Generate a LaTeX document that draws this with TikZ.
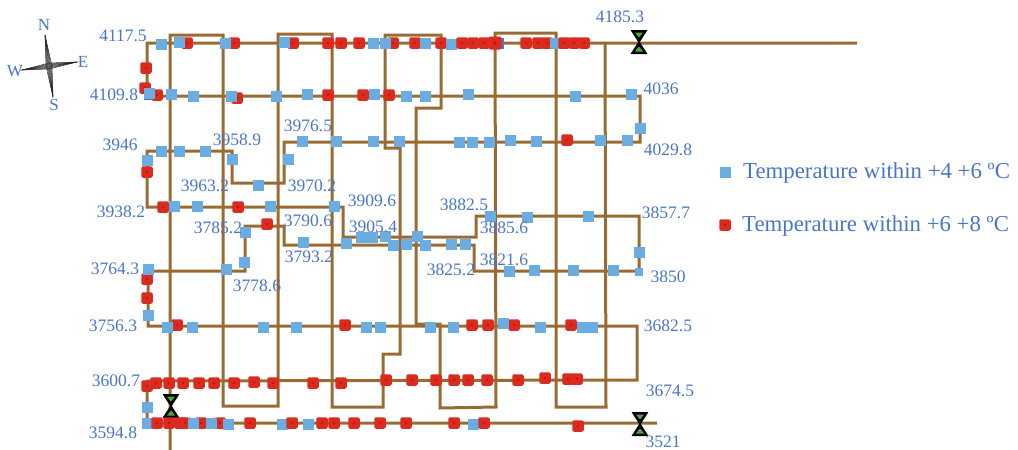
\documentclass[tikz,border=0pt]{standalone}
\usepackage{fontspec}
\setmainfont{Liberation Serif}
\definecolor{pipe}{HTML}{996B33}
\definecolor{mblue}{HTML}{69ADE3}
\definecolor{mred}{HTML}{DB2A1E}
\definecolor{mdark}{HTML}{C01A14}
\definecolor{tblue}{HTML}{4A76C6}
\definecolor{vgreen}{HTML}{4FAA3C}
\tikzset{
  pipeline/.style={draw=pipe,line width=3pt,line join=miter},
  mkb/.style={fill=mblue,draw=none,inner sep=0pt,minimum size=11pt},
  mkr/.style={fill=mred,draw=none,inner sep=0pt,minimum size=11.5pt,rounded corners=2pt},
  lab/.style={text=tblue,font=\fontsize{17.5}{20}\selectfont,inner sep=0pt},
  cmp/.style={text=tblue,font=\fontsize{17}{20}\selectfont,inner sep=0pt},
  leg/.style={text=tblue,font=\fontsize{22.8}{26}\selectfont,inner sep=0pt,anchor=west},
  star/.style={draw=black!85,line width=0.5pt}
}
\newcommand{\Bm}[2]{\node[mkb] (b#1-#2) at (#1,#2) {};}
\newcommand{\Rm}[2]{\node[mkr] (r#1-#2) at (#1,#2) {};\fill[mdark] (r#1-#2.center) circle (1.3pt);}
\newcommand{\Lb}[3]{\node[lab] (t#1) at (#2,#3) {#1};}
\newcommand{\Valve}[3]{%
  \fill[black,rounded corners=0.6pt] (#2-8.5,#3-12)--(#2+8.5,#3-12)--(#2+0.8,#3)--(#2+8.5,#3+12)--(#2-8.5,#3+12)--(#2-0.8,#3)--cycle;
  \fill[vgreen] (#2-4,#3-9.5)--(#2+4,#3-9.5)--(#2,#3-4.5)--cycle;
  \fill[vgreen] (#2-4,#3+9.5)--(#2+4,#3+9.5)--(#2,#3+4.5)--cycle;
  \coordinate (#1) at (#2,#3);}
\begin{document}
\begin{tikzpicture}[x=1pt,y=-1pt]
\useasboundingbox (0,0) rectangle (1018,450);
\clip (0,0) rectangle (1018,450);
% main network, horizontal rows
\draw[pipeline] (857,43) -- (147,43) -- (147,96) -- (640,96) -- (640,142) -- (284,142)
  -- (284,183) -- (232,183) -- (232,151) -- (147,151) -- (147,207) -- (343,207)
  -- (343,237) -- (476,237) -- (476,216) -- (639,216) -- (639,271) -- (474,271)
  -- (474,245) -- (284,245) -- (284,226) -- (245,226) -- (245,271) -- (148,271)
  -- (148,326) -- (637,326) -- (637,380) -- (147,381) -- (147,423) -- (657,423);
% risers
\draw[pipeline] (170,450) -- (170,35) -- (223,35) -- (223,406) -- (278,406) -- (278,34)
  -- (332,34) -- (332,407) -- (383,407) -- (383,354) -- (400,354) -- (400,148) -- (385,148)
  -- (385,35) -- (441,35) -- (441,108) -- (416,108) -- (416,324) -- (440,324) -- (440,408)
  -- (496,407) -- (495,33) -- (556,33) -- (556,407) -- (606,407) -- (605,43);
% valves
\Valve{v1}{639}{42}
\Valve{v2}{171}{406}
\Valve{v3}{640}{424}
% compass
\foreach \a in {3,2,1,0}{
  \draw[star] (45,35) -- (49+\a,66) -- (53,97) -- (49-\a,66) -- cycle;
  \draw[star] (22,70) -- (49,66+\a) -- (77,62) -- (49,66-\a) -- cycle;
}
\node[cmp] (cN) at (44,25) {N};
\node[cmp] (cS) at (54,105) {S};
\node[cmp] (cW) at (15,71) {W};
\node[cmp] (cE) at (83,62) {E};
% row 1
\Bm{161}{44}\Rm{187}{43}\Bm{179}{42}\Rm{234}{43}\Bm{225}{43}\Rm{293}{43}\Bm{284}{42}
\Rm{328}{43}\Rm{341}{43}\Rm{359}{43}\Bm{373}{43}\Rm{393}{43}\Bm{385}{43}\Rm{415}{43}\Bm{425}{43}
\Rm{441}{43}\Bm{451}{44}\Rm{462}{43}\Rm{473}{43}\Rm{484}{43}
\node[fill=tblue,inner sep=0pt,minimum size=11pt] (dk1) at (498,43) {};
\node[mkr,minimum size=13pt] (rbig) at (495,43) {};\fill[mdark] (rbig.center) circle (2pt);
\Rm{526}{43}\Rm{538}{43}\Rm{547}{43}\Bm{555}{43}\Rm{564}{43}\Rm{574}{43}\Rm{584}{43}
% row 2
\Rm{146}{68}\Rm{145}{88}
\node[fill=tblue,inner sep=0pt,minimum size=11.5pt] (dk2) at (149.5,94.5) {};
\Rm{157}{95}\node[mkb] (bbig) at (149,93.5) {};
\Bm{171}{94}\Bm{193}{96}\Rm{237}{98}\Bm{231}{96}\Bm{276}{96}\Bm{307}{94}\Rm{328}{95}
\Rm{363}{95}\Bm{374}{94}\Rm{389}{95}\Bm{406}{96}\Bm{425}{96}\Bm{468}{94}\Bm{575}{96}\Bm{631}{94}
% row 3
\Bm{640}{128}\Bm{627}{140}\Bm{600}{140}\Rm{567}{140}\Bm{536}{141}\Bm{510}{140}\Bm{489}{142}
\Bm{472}{142}\Bm{459}{142}\Bm{399}{141}\Bm{373}{141}\Bm{336}{141}\Bm{302}{141}\Bm{288}{159}
% row 151
\Bm{161}{151}\Bm{179}{151}\Bm{205}{151}\Bm{232}{159}\Bm{147}{160}\Rm{147}{172}\Bm{258}{185}
% row 207
\Rm{163}{207}\Bm{174}{206}\Bm{197}{206}\Rm{238}{207}\Bm{270}{206}\Bm{334}{206}
% inner loop
\Rm{267}{224}\Bm{245}{232}\Bm{244}{262}\Bm{226}{269}\Bm{303}{242}\Bm{346}{243}
\Bm{361}{237}\Bm{372}{237}\Bm{385}{236}\Bm{393}{245}\Bm{406}{244}\Bm{417}{236}\Bm{425}{245}
\Bm{451}{244}\Bm{465}{244}\Bm{490}{216}\Bm{527}{217}\Bm{588}{216}\Bm{639}{252}
\Bm{509}{271}\Bm{534}{270}\Bm{573}{270}\Bm{613}{270}
\node[mkb,minimum size=8pt] (bsm) at (639,272) {};
% left side
\Rm{147}{279}\Bm{148}{269}\Rm{147}{298}\Bm{148}{315}
% row 326
\Rm{177}{325}\Bm{167}{327}\Bm{192}{327}\Bm{263}{327}\Bm{296}{327}\Rm{345}{325}\Bm{366}{327}\Bm{380}{327}
\Bm{430}{327}\Bm{453}{327}\Rm{472}{325}\Rm{488}{325}\Rm{514}{325}\Bm{503}{323}\Bm{540}{327}\Rm{571}{325}
\Bm{582}{327}\Bm{588}{327}\Bm{592}{327}
% row 381
\Rm{147}{386}\Rm{156}{383}\Rm{169}{383}\Rm{183}{383}\Rm{199}{383}\Rm{214}{383}\Rm{234}{383}\Rm{254}{382}
\Rm{273}{383}\Rm{313}{383}\Rm{341}{383}\Rm{386}{380}\Rm{412}{380}\Rm{436}{380}\Rm{454}{380}\Rm{468}{380}
\Rm{487}{380}\Rm{518}{380}\Rm{545}{378}\Rm{568}{379}\Rm{577}{379}
% bottom row
\Bm{147}{407}\Bm{147}{423}\Rm{157}{423}\Rm{169}{423}\Rm{180}{423}\Rm{185}{423}\Rm{201}{423}\Bm{193}{423}
\Rm{220}{423}\Bm{211}{423}\Bm{228}{424}\Rm{250}{423}\Bm{282}{424}\Rm{292}{423}\Bm{308}{424}\Rm{322}{423}
\Rm{334}{423}\Rm{354}{423}\Rm{380}{423}\Rm{406}{423}\Rm{454}{423}\Bm{473}{424}\Rm{484}{423}\Rm{578}{426}
% labels
\Lb{4117.5}{123}{36}\Lb{4109.8}{114}{95}\Lb{3946}{120}{145}\Lb{3958.9}{237}{140}
\Lb{3976.5}{308}{126}\Lb{3963.2}{205}{186}\Lb{3970.2}{312}{186}\Lb{3938.2}{121}{212}
\Lb{3909.6}{372}{201}\Lb{3905.4}{373}{227}\Lb{3882.5}{464}{205}\Lb{3885.6}{504}{228}
\Lb{3785.2}{218}{228}\Lb{3790.6}{308}{221}\Lb{3793.2}{309}{257}\Lb{3857.7}{666}{213}
\Lb{3764.3}{115}{269}\Lb{3778.6}{257}{286}\Lb{3825.2}{451}{270}\Lb{3821.6}{504}{260}
\Lb{3850}{668}{277}\Lb{3756.3}{113}{326}\Lb{3682.5}{668}{326}\Lb{3600.7}{116}{381}
\Lb{3674.5}{670}{391}\Lb{3594.8}{113}{433}\Lb{4185.3}{620}{17}\Lb{4036}{661}{89}
\Lb{4029.8}{668}{150}\Lb{3521}{663}{442}
% legend
\node[mkb] (lgb) at (725,172) {};
\node[leg] (lgbt) at (743,173) {Temperature within +4 +6 ºC};
\node[mkr] (lgr) at (725,225) {};\fill[mdark] (lgr.center) circle (1.6pt);
\node[leg] (lgrt) at (742,226) {Temperature within +6 +8 ºC};
\end{tikzpicture}
\end{document}
